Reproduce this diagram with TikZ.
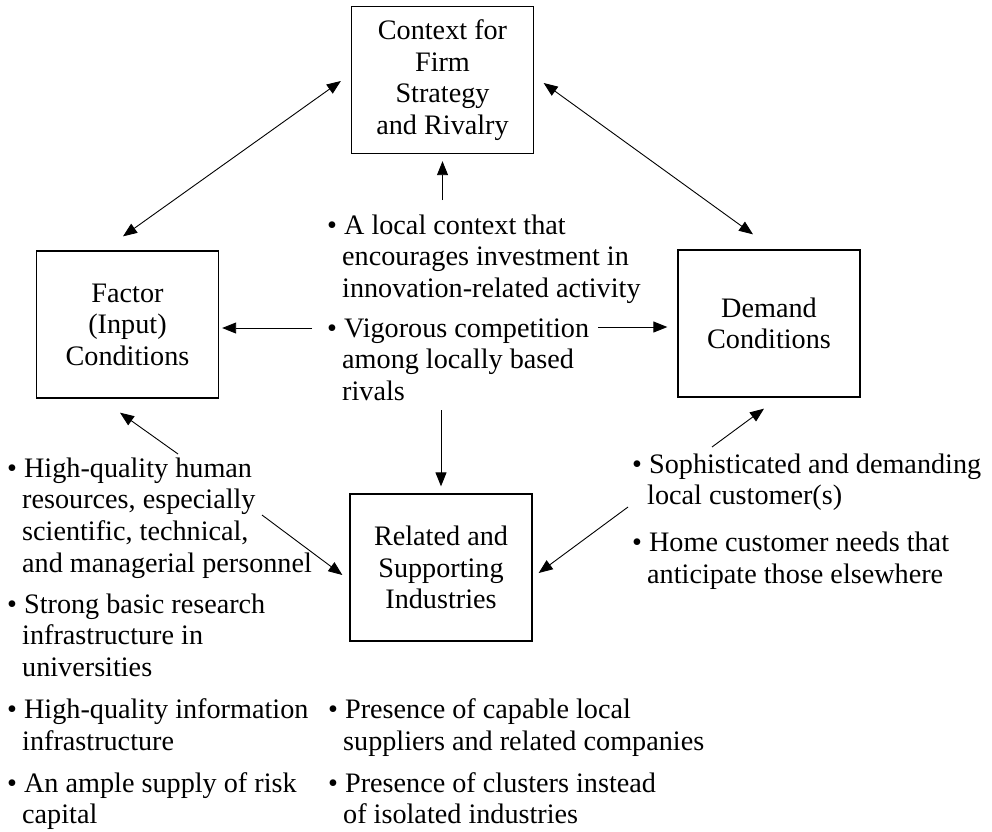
\documentclass[tikz,border=0pt]{standalone}
\usepackage{fontspec}
\setmainfont{Liberation Serif}
\usetikzlibrary{arrows.meta,calc}
% bullet item start and hanging indent for continuation lines
\newcommand{\itm}{\textbullet\ }
\newcommand{\cont}{\hspace*{15pt}}
\begin{document}
\begin{tikzpicture}[x=1pt,y=-1pt,
  every node/.style={font=\fontsize{28.2}{31.6}\selectfont, inner sep=0pt},
  block/.style={draw, line width=1.3pt, fill=white, minimum width=182pt,
    minimum height=147pt, align=center},
  bullets/.style={anchor=north west, align=left},
  link/.style={line width=0.9pt, -{Triangle[length=14pt,width=11pt]}},
  twoway/.style={line width=0.9pt,
    {Triangle[length=14pt,width=11pt]}-{Triangle[length=14pt,width=11pt]}}]
\useasboundingbox (0,0) rectangle (992,831);

% the four determinants
\node[block] (ctx) at (442.5,80) {Context for\\Firm\\Strategy\\and Rivalry};
\node[block] (fac) at (127.5,324.5) {Factor\\(Input)\\Conditions};
\node[block] (dem) at (769,323.5) {Demand\\Conditions};
\node[block] (rel) at (441,567.5) {Related and\\Supporting\\Industries};

% centre notes
\node[bullets] (c1) at (327,212) {\strut\itm A local context that\\\cont encourages investment in\\\cont innovation-related activity};
\node[bullets] (c2) at (327,315) {\strut\itm Vigorous competition\\\cont among locally based\\\cont rivals};

% factor notes
\node[bullets] (l1) at (7,455) {\strut\itm High-quality human\\\cont resources, especially\\\cont scientific, technical,\\\cont and managerial personnel};
\node[bullets] (l2) at (7,591) {\strut\itm Strong basic research\\\cont infrastructure in\\\cont universities};
\node[bullets] (l3) at (7,696.5) {\strut\itm High-quality information\\\cont infrastructure};
\node[bullets] (l4) at (7,770) {\strut\itm An ample supply of risk\\\cont capital};

% related-industry notes
\node[bullets] (b1) at (328,696.5) {\strut\itm Presence of capable local\\\cont suppliers and related companies};
\node[bullets] (b2) at (328,770) {\strut\itm Presence of clusters instead\\\cont of isolated industries};

% demand notes
\node[bullets] (r1) at (632,451) {\strut\itm Sophisticated and demanding\\\cont local customer(s)};
\node[bullets] (r2) at (632,529.5) {\strut\itm Home customer needs that\\\cont anticipate those elsewhere};

% free ends of the connectors at the notes
\coordinate (cup) at (442.5,200);
\coordinate (cdown) at (441,410);
\coordinate (cleft) at (312,328);
\coordinate (cright) at (598,327);
\coordinate (lfac) at (178,454);
\coordinate (lrel) at (262,515);
\coordinate (rdem) at (712,447);
\coordinate (rrel) at (628,507);

% connectors
\draw[twoway] ([xshift=-10pt,yshift=-1pt]ctx.west) -- ([xshift=-4.5pt,yshift=14pt]fac.north);
\draw[twoway] ([xshift=9.5pt,yshift=-3pt]ctx.east) -- ([xshift=-16pt,yshift=15pt]dem.north);
\draw[link] (cup) -- ([yshift=-7pt]ctx.south);
\draw[link] (cdown) -- ([yshift=7pt]rel.north);
\draw[link] (cleft) -- ($(fac.east |- cleft)+(3,0)$);
\draw[link] (cright) -- ($(dem.west |- cright)+(-10,0)$);
\draw[link] (lfac) -- ([xshift=-7.5pt,yshift=-14pt]fac.south);
\draw[link] (lrel) -- ([xshift=-7pt,yshift=-7.5pt]rel.west);
\draw[link] (rdem) -- ([xshift=-5pt,yshift=-11pt]dem.south);
\draw[link] (rrel) -- ([xshift=6pt,yshift=-5.5pt]rel.east);
\end{tikzpicture}
\end{document}
